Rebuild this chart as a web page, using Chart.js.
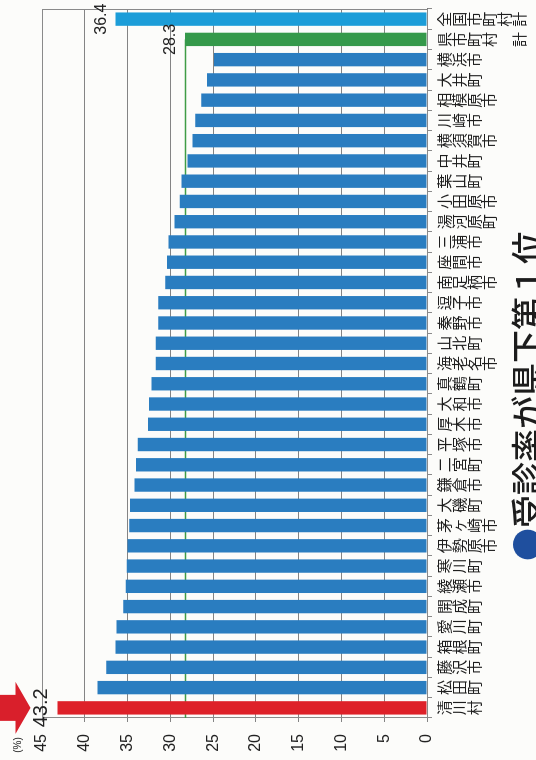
<!DOCTYPE html>
<html lang="ja">
<head>
<meta charset="utf-8">
<script src="https://cdn.jsdelivr.net/npm/chart.js@4.4.1/dist/chart.umd.min.js"></script>
<style>
  html, body { margin: 0; padding: 0; background: #fcfcfa; overflow: hidden; }
  /* the chart is drawn upright (760 x 536) and turned a quarter turn to the left */
  #wrap { position: absolute; left: 0; top: 0; width: 760px; height: 536px;
          transform-origin: 0 0; transform: translateY(760px) rotate(-90deg); }
  #chart { position: absolute; left: 0; top: 0; }
  #title { position: absolute; left: 199px; top: 502px; white-space: nowrap; line-height: 1;
           font: 500 33px 'Noto Sans CJK JP', sans-serif; color: #1c1c1c; }
  #title .dot { color: #1f4f9e; }
</style>
</head>
<body>
<div id="wrap">
  <canvas id="chart" width="760" height="536"></canvas>
  <div id="title"><span class="dot">●</span>受診率が県下第１位</div>
</div>
<script>
// municipalities, left to right (bottom to top once turned)
const municipalities = [
    '清川村', '松田町', '藤沢市', '箱根町', '愛川町', '開成町', '綾瀬市', '寒川町',
    '伊勢原市', '茅ヶ崎市', '大磯町', '鎌倉市', '二宮町', '平塚市', '厚木市', '大和市',
    '真鶴町', '海老名市', '山北町', '秦野市', '逗子市', '南足柄市', '座間市', '三浦市',
    '湯河原町', '小田原市', '葉山町', '中井町', '横須賀市', '川崎市', '相模原市', '大井町',
    '横浜市', '県市町村 計', '全国市町村計'
];
// 受診率 (%)
const rates = [
    43.2, 38.5, 37.5, 36.4, 36.3, 35.5, 35.2, 35.1,
    35.0, 34.8, 34.7, 34.2, 34.0, 33.8, 32.6, 32.5,
    32.2, 31.7, 31.7, 31.4, 31.4, 30.6, 30.4, 30.2,
    29.5, 28.9, 28.7, 28.0, 27.4, 27.1, 26.4, 25.7,
    24.9, 28.3, 36.4
];
const rateTicks = [0, 5, 10, 15, 20, 25, 30, 35, 40, 45];
const labelledBars = ['清川村', '県市町村 計', '全国市町村計'];
const prefName = '県市町村 計';
const prefAverage = 28.3;

const barColors = municipalities.map((m, i) => {
    if (i === 0) return '#de2129';
    if (m === prefName) return '#35994a';
    if (m === '全国市町村計') return '#1c9dd8';
    return '#2a7dc0';
});

const narrow = "'Liberation Sans Narrow', 'Liberation Sans', sans-serif";

const overlay = {
    id: 'overlay',
    beforeDatasetsDraw(chart) {
        const { ctx, chartArea: a, scales: { y } } = chart;
        const meta = chart.getDatasetMeta(0);
        ctx.save();
        // frame
        ctx.strokeStyle = '#8a8a8a';
        ctx.lineWidth = 1;
        ctx.strokeRect(a.left + 0.5, a.top + 0.5, a.right - a.left - 1, a.bottom - a.top);
        // prefecture average line
        const pref = meta.data[municipalities.indexOf(prefName)];
        const py = Math.round(y.getPixelForValue(prefAverage)) + 0.5;
        ctx.strokeStyle = '#3f9c45';
        ctx.lineWidth = 1.5;
        ctx.beginPath();
        ctx.moveTo(a.left, py);
        ctx.lineTo(pref.x, py);
        ctx.stroke();
        ctx.restore();
    },
    afterDatasetsDraw(chart) {
        const { ctx, chartArea: a } = chart;
        const meta = chart.getDatasetMeta(0);
        ctx.save();
        ctx.fillStyle = '#222';
        ctx.textAlign = 'center';
        ctx.textBaseline = 'alphabetic';
        labelledBars.forEach(name => {
            const i = municipalities.indexOf(name);
            const bar = meta.data[i];
            ctx.font = (i === 0 ? '20px ' : '16px ') + narrow;
            ctx.fillText(rates[i].toFixed(1), bar.x, bar.y - 10);
        });

        // (%) unit
        ctx.font = '10px ' + narrow;
        ctx.fillText('(%)', a.left - 27, a.top - 21);

        // red arrow over the top bar
        const top = meta.data[0];
        const tip = top.y - 27, base = tip - 15;
        ctx.fillStyle = '#d91f2b';
        ctx.beginPath();
        ctx.moveTo(top.x - 13, 0);
        ctx.lineTo(top.x + 13, 0);
        ctx.lineTo(top.x + 13, base);
        ctx.lineTo(top.x + 26, base);
        ctx.lineTo(top.x, tip);
        ctx.lineTo(top.x - 26, base);
        ctx.lineTo(top.x - 13, base);
        ctx.closePath();
        ctx.fill();
        ctx.restore();
    }
};

new Chart(document.getElementById('chart'), {
    type: 'bar',
    data: {
        labels: municipalities,
        datasets: [{
            data: rates,
            backgroundColor: barColors,
            borderWidth: 0,
            barPercentage: 0.66,
            categoryPercentage: 1
        }]
    },
    options: {
        responsive: false,
        devicePixelRatio: 1,
        animation: false,
        events: [],
        layout: { padding: { top: 42, right: 9, left: 0, bottom: 0 } },
        plugins: { legend: { display: false }, tooltip: { enabled: false } },
        scales: {
            x: {
                afterFit: s => { s.height = 109; },
                grid: { drawOnChartArea: false, tickLength: 5, color: '#8a8a8a' },
                border: { color: '#777' },
                ticks: {
                    autoSkip: false, maxRotation: 0, minRotation: 0, padding: 5,
                    color: '#1e1e1e',
                    font: { family: "'Noto Sans CJK JP', sans-serif", size: 15, lineHeight: 1.0 },
                    callback: function (v) { return Array.from(this.getLabelForValue(v)); }
                }
            },
            y: {
                min: rateTicks[0],
                max: rateTicks[rateTicks.length - 1],
                afterFit: s => { s.width = 42; },
                afterBuildTicks: s => { s.ticks = rateTicks.map(v => ({ value: v })); },
                grid: { color: '#848484', tickLength: 4 },
                border: { color: '#777' },
                ticks: { padding: 12, color: '#222', font: { family: narrow, size: 16 } }
            }
        }
    },
    plugins: [overlay]
});
</script>
</body>
</html>
